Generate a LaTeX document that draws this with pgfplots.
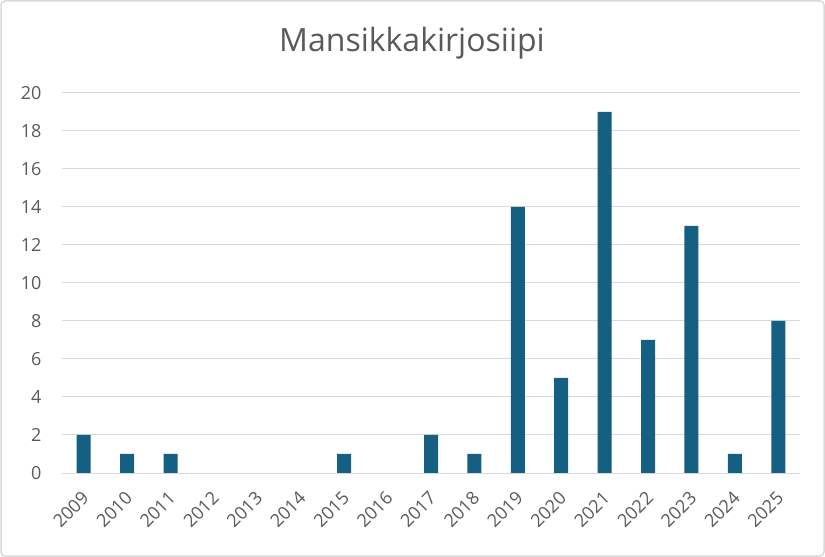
\documentclass[border=0pt]{standalone}
\usepackage{pgfplots}
\pgfplotsset{compat=1.18}
\usepackage{fontspec}
\setmainfont{Open Sans}
\definecolor{barblue}{HTML}{156082}
\definecolor{txtgray}{HTML}{595959}
\definecolor{gridgray}{HTML}{D9D9D9}
\begin{document}
\begin{tikzpicture}
    \useasboundingbox (0bp,0bp) rectangle (825bp,557bp);
    \draw[gridgray, line width=1.5bp, rounded corners=4bp] (1bp,1bp) rectangle (824bp,556bp);
    \node[text=txtgray, font=\fontsize{32bp}{36bp}\selectfont] at (412bp,514bp) {Mansikkakirjosiipi};
    \begin{axis}[
            at={(62bp,84bp)},
            anchor=south west,
            scale only axis,
            width=738bp,
            height=380bp,
            ybar,
            bar width=14bp,
            xmin=-0.5, xmax=16.5,
            ymin=0, ymax=20,
            ytick={0,2,...,20},
            xtick={0,...,16},
            xticklabels={2009,2010,2011,2012,2013,2014,2015,2016,2017,2018,2019,2020,2021,2022,2023,2024,2025},
            x tick label style={xshift=-3bp, yshift=-17bp, rotate=45, anchor=north east, inner sep=0bp},
            ticklabel style={text=txtgray, font=\fontsize{18bp}{21bp}\selectfont},
            /pgf/number format/assume math mode=true,
            ymajorgrids=true,
            grid style={gridgray, line width=1bp},
            axis line style={draw=none},
            major tick length=0pt,
            yticklabel style={xshift=-17bp},
        ]
        % zero years carry no visible bar
        \addplot[fill=barblue, draw=none, restrict y to domain=0.5:100] coordinates {
                (0, 2)
                (1, 1)
                (2, 1)
                (3, 0)
                (4, 0)
                (5, 0)
                (6, 1)
                (7, 0)
                (8, 2)
                (9, 1)
                (10, 14)
                (11, 5)
                (12, 19)
                (13, 7)
                (14, 13)
                (15, 1)
                (16, 8)
            };
    \end{axis}
\end{tikzpicture}
\end{document}
